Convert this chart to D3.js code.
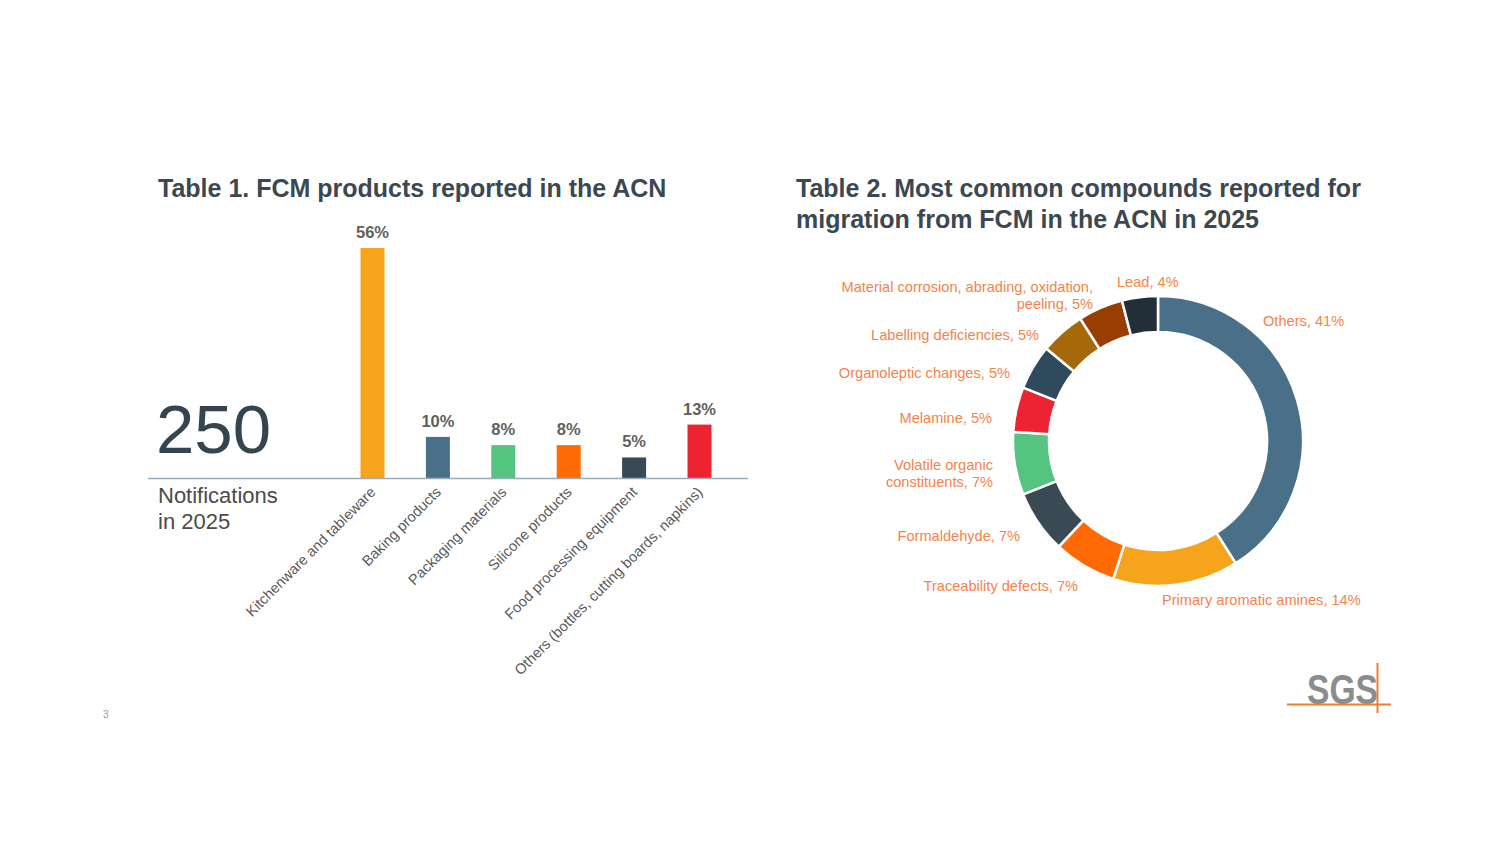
<!DOCTYPE html>
<html><head><meta charset="utf-8">
<script src="https://cdn.jsdelivr.net/npm/d3@7"></script>
<style>
html,body{margin:0;padding:0;background:#fff;}
svg{display:block;font-family:"Liberation Sans",Arial,sans-serif;}
</style></head>
<body>
<svg id="chart" width="1504" height="846"></svg>
<script>
// ---- Data ----
const barCategories = ["Kitchenware and tableware","Baking products","Packaging materials","Silicone products","Food processing equipment","Others (bottles, cutting boards, napkins)"];
const barValues = [56, 10, 8, 8, 5, 13];
const barColors = ["#f5a41b","#4a7089","#55c481","#ff6a05","#3a4a55","#ee2332"];
const totalNotifications = "250";

const donutLabels = ["Others","Primary aromatic amines","Traceability defects","Formaldehyde","Volatile organic constituents","Melamine","Organoleptic changes","Labelling deficiencies","Material corrosion, abrading, oxidation, peeling","Lead"];
const donutValues = [41, 14, 7, 7, 7, 5, 5, 5, 5, 4];
const donutColors = ["#4a7089","#f5a41b","#ff6a05","#3a4a55","#55c481","#ee2332","#2e4a5c","#a5690b","#9a3d02","#232f38"];
// label text lines (wrapped as in the original)
const donutLabelLines = [["Others, 41%"],["Primary aromatic amines, 14%"],["Traceability defects, 7%"],["Formaldehyde, 7%"],["Volatile organic","constituents, 7%"],["Melamine, 5%"],["Organoleptic changes, 5%"],["Labelling deficiencies, 5%"],["Material corrosion, abrading, oxidation,","peeling, 5%"],["Lead, 4%"]];

// ---- Layout ----
const svg = d3.select("#chart");
const titleColor = "#3b4852";

// Table 1 title
svg.append("text").attr("x",158).attr("y",197).attr("font-size",25).attr("font-weight","bold")
  .attr("fill",titleColor).text("Table 1. FCM products reported in the ACN");

const baseY = 478;
const x = d3.scaleBand().domain(barCategories).range([339.8, 732.2]).paddingInner(0.633).paddingOuter(0.3165);
const y = d3.scaleLinear().domain([0, 56]).range([baseY, 248]);

const g1 = svg.append("g");
g1.selectAll("rect.bar").data(barValues).join("rect").attr("class","bar")
  .attr("x",(d,i)=>x(barCategories[i])).attr("width",x.bandwidth())
  .attr("y",d=>y(d)).attr("height",d=>baseY-y(d)).attr("fill",(d,i)=>barColors[i]);

g1.selectAll("text.val").data(barValues).join("text").attr("class","val")
  .attr("x",(d,i)=>x(barCategories[i])+x.bandwidth()/2).attr("y",d=>y(d)-10)
  .attr("text-anchor","middle").attr("font-size",16.5).attr("font-weight","bold").attr("fill","#606060")
  .text(d=>d+"%");

// baseline axis
const xAxis = d3.axisBottom(x).tickSize(0).tickPadding(0).tickFormat("");
const ax = svg.append("g").attr("transform",`translate(0,${baseY})`).call(xAxis);
ax.select(".domain").remove();
svg.append("line").attr("x1",148).attr("x2",748).attr("y1",baseY+0.5).attr("y2",baseY+0.5)
  .attr("stroke","#98adbd").attr("stroke-width",1.5);

// rotated category labels
g1.selectAll("text.cat").data(barCategories).join("text").attr("class","cat")
  .attr("transform",d=>`translate(${x(d)+x.bandwidth()/2+4},${baseY+15}) rotate(-45)`)
  .attr("text-anchor","end").attr("font-size",14.6).attr("fill","#595959").text(d=>d);

// big number
svg.append("text").attr("x",156).attr("y",453).attr("font-size",69).attr("fill","#34454f").text(totalNotifications);
svg.append("text").attr("x",158).attr("y",503).attr("font-size",22).attr("fill","#4b4b4b").text("Notifications");
svg.append("text").attr("x",158).attr("y",529).attr("font-size",22).attr("fill","#4b4b4b").text("in 2025");

// Table 2 title
svg.append("text").attr("x",796).attr("y",197).attr("font-size",25).attr("font-weight","bold")
  .attr("fill",titleColor).text("Table 2. Most common compounds reported for");
svg.append("text").attr("x",796).attr("y",228).attr("font-size",25).attr("font-weight","bold")
  .attr("fill",titleColor).text("migration from FCM in the ACN in 2025");

// Donut
const cx = 1158, cy = 441, rOuter = 145, rInner = 109;
const pie = d3.pie().sort(null).value(d=>d);
const arc = d3.arc().innerRadius(rInner).outerRadius(rOuter);
const g2 = svg.append("g").attr("transform",`translate(${cx},${cy})`);
const arcs = pie(donutValues);
g2.selectAll("path").data(arcs).join("path").attr("d",arc)
  .attr("fill",(d,i)=>donutColors[i]).attr("stroke","#fff").attr("stroke-width",2.5);

// label placement (offsets relative to donut centre) and anchor
const labelPlace = [
  {dx:105, dy:-115, anchor:"start"},
  {dx:4,   dy:164,  anchor:"start"},
  {dx:-80, dy:150,  anchor:"end"},
  {dx:-138,dy:100,  anchor:"end"},
  {dx:-165,dy:29,   anchor:"end"},
  {dx:-166,dy:-18,  anchor:"end"},
  {dx:-148,dy:-63,  anchor:"end"},
  {dx:-119,dy:-101, anchor:"end"},
  {dx:-65, dy:-149, anchor:"end"},
  {dx:-41, dy:-154, anchor:"start"}
];
const labelColor = "#f5834a";
arcs.forEach((a,i)=>{
  const p = labelPlace[i];
  const t = g2.append("text").attr("x",p.dx).attr("y",p.dy).attr("text-anchor",p.anchor)
    .attr("font-size",14.6).attr("fill",labelColor);
  donutLabelLines[i].forEach((ln,k)=>{
    t.append("tspan").attr("x",p.dx).attr("dy",k===0?0:17).text(ln);
  });
});

// SGS logo
svg.append("text").attr("x",1307).attr("y",704).attr("font-size",42).attr("font-weight","bold")
  .attr("font-family","'Liberation Sans Narrow','Arial Narrow',sans-serif").attr("fill","#8c8c8c")
  .attr("textLength",71).attr("lengthAdjust","spacingAndGlyphs").text("SGS");
svg.append("line").attr("x1",1287).attr("x2",1391).attr("y1",704.5).attr("y2",704.5).attr("stroke","#f47a2c").attr("stroke-width",2);
svg.append("line").attr("x1",1377.5).attr("x2",1377.5).attr("y1",663).attr("y2",713).attr("stroke","#f47a2c").attr("stroke-width",2);

// page number
svg.append("text").attr("x",103).attr("y",718).attr("font-size",10).attr("fill","#8a9cb0").text("3");
</script>
</body></html>
